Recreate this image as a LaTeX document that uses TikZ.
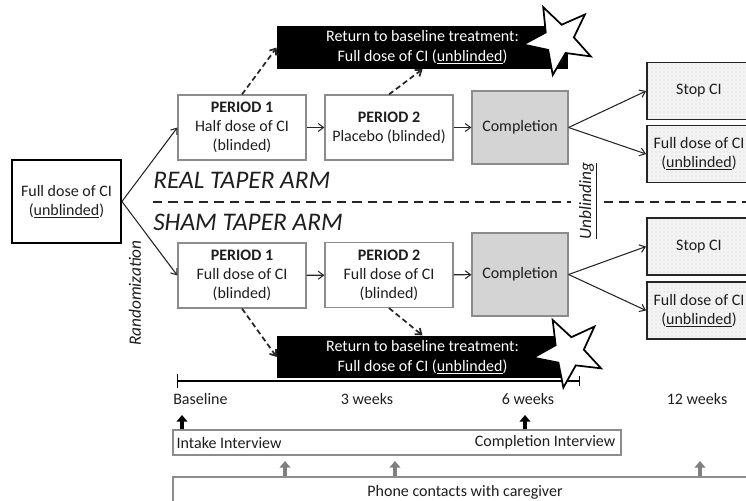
\documentclass[tikz,border=0pt]{standalone}
\usepackage{fontspec}
\setmainfont{Carlito}
\usetikzlibrary{arrows.meta,shapes.geometric,patterns}
\definecolor{boxgray}{RGB}{140,140,140}
\definecolor{compgray}{RGB}{212,212,212}
\definecolor{dotfill}{RGB}{243,243,243}
\definecolor{txtgray}{RGB}{30,30,30}
\newdimen\px
\px=0.75pt

\begin{document}
\begin{tikzpicture}[
  x=0.75pt, y=-0.75pt,
  font=\fontsize{12}{14.3}\selectfont, text=txtgray,
  perbox/.style={
    rectangle, draw=boxgray, line width=0.9pt, fill=white,
    minimum width=128\px, minimum height=65\px,
    align=center, inner sep=2pt
  },
  startbox/.style={rectangle, draw=black, line width=1.4pt,
    minimum width=109\px, minimum height=83\px, align=center},
  compbox/.style={rectangle, draw=boxgray, line width=0.9pt,
    fill=compgray, minimum width=96\px, align=center},
  outbox/.style={rectangle, draw=black!85, line width=1.4pt,
    preaction={fill=dotfill}, pattern=dots, pattern color=gray!35,
    minimum width=104\px, minimum height=57\px, align=center, inner sep=1pt},
  retbox/.style={rectangle, fill=black, text=white,
    minimum width=291\px, minimum height=41\px, align=center,
    font=\fontsize{12}{15}\selectfont},
  burst/.style={star, star points=5, star point ratio=2.4,
    draw=black, fill=white, line width=1.3pt,
    minimum size=72\px, inner sep=0pt},
  conn/.style={-{Straight Barb[length=4pt,width=6pt]}, line width=0.8pt, draw=black!85},
  back/.style={conn, line width=1.3pt, dash pattern=on 4pt off 2.5pt},
  sepline/.style={line width=1.4pt, draw=black!85, dash pattern=on 7pt off 4.5pt},
  armlabel/.style={font=\fontsize{19}{22}\selectfont\itshape, anchor=west, inner sep=0pt},
  sidelabel/.style={font=\fontsize{13}{15}\selectfont\itshape, rotate=90, inner sep=0pt},
  weeklabel/.style={inner sep=0pt},
  ivbox/.style={rectangle, draw=boxgray, line width=0.9pt},
  tline/.style={line width=2.2pt, draw=black,
    {Bar[width=11pt,line width=1pt]}-{Bar[width=7.5pt,line width=1pt]}},
  bigup/.style={-{Triangle[length=5pt,width=8pt]}, line width=2.6pt, draw=black},
  greyup/.style={bigup, draw=gray}
]
\useasboundingbox (0,0) rectangle (746,500);
\clip (0,0) rectangle (746,500);

\node[startbox] (start) at (66.5,201.5) {Full dose of CI\\(\underline{unblinded})};

\node[perbox] (r1) at (242,127.5) {\textbf{PERIOD 1}\\Half dose of CI\\(blinded)};
\node[perbox] (r2) at (389,127.5) {\textbf{PERIOD 2}\\Placebo (blinded)};
\node[compbox, minimum height=73\px] (rc) at (520,127.5) {Completion};
\node[outbox] (rstop) at (699,91) {Stop CI};
\node[outbox] (rfull) at (699,154) {Full dose of CI\\(\underline{unblinded})};
\node[retbox] (rret) at (422.5,47.5) {Return to baseline treatment:\\Full dose of CI (\underline{unblinded})};
\node[burst, rotate=26] (rstar) at (559,39.5) {};

\node[perbox] (s1) at (242,275.5) {\textbf{PERIOD 1}\\Full dose of CI\\(blinded)};
\node[perbox] (s2) at (389,275) {\textbf{PERIOD 2}\\Full dose of CI\\(blinded)};
\node[compbox, minimum height=83\px] (sc) at (520,274.5) {Completion};
\node[outbox] (sstop) at (699,246.5) {Stop CI};
\node[outbox] (sfull) at (699,310.5) {Full dose of CI\\(\underline{unblinded})};
\node[retbox, minimum height=40\px] (sret) at (422.5,357) {Return to baseline treatment:\\Full dose of CI (\underline{unblinded})};

\draw[conn] (start.east) -- (r1.west);
\draw[conn] (start.east) -- (s1.west);
\draw[conn] (r1) -- (r2);
\draw[conn] (r2) -- (rc);
\draw[conn] (rc.east) -- (rstop.west);
\draw[conn] (rc.east) -- (rfull.west);
\draw[conn] (s1) -- (s2);
\draw[conn] (s2) -- (sc);
\draw[conn] (sc.east) -- (sstop.west);
\draw[conn] (sc.east) -- (sfull.west);

\draw[back] (r1.north) -- (rret.west);
\draw[back] (r2.north) -- (rret.south);
\draw[back] (s1.south) -- (sret.west);
\draw[back] (s2.south) -- (sret.north);

\node[armlabel] (real) at (153,180) {REAL TAPER ARM};
\node[armlabel] (sham) at (153,222) {SHAM TAPER ARM};
\coordinate (d0) at (153,202);
\coordinate (d1) at (571,202);
\coordinate (d2) at (604,202);
\coordinate (d3) at (746,202);
\draw[sepline] (d0) -- (d1);
\draw[sepline] (d2) -- (d3);
\node[sidelabel] (unbl) at (588,201) {\underline{Unblinding}};
\node[sidelabel] (rand) at (135,293) {Randomization};

\coordinate (tl) at (177,381);
\coordinate (tr) at (580,381);
\draw[tline] (tl) -- (tr);
\node[burst, rotate=27] (sstar) at (569,352) {};

\node[weeklabel, anchor=west] (w0) at (173,399) {Baseline};
\node[weeklabel] (w3) at (367,399) {3 weeks};
\node[weeklabel] (w6) at (528,399) {6 weeks};
\node[weeklabel] (w12) at (697,399) {12 weeks};

\node[ivbox, minimum width=448\px, minimum height=25\px] (intake) at (397,442.5) {};
\node[anchor=west, inner sep=4\px] (intxt) at (intake.west) {Intake Interview};
\node[anchor=east, inner sep=6\px] (comptxt) at (intake.east) {Completion Interview};
\node[ivbox, minimum width=584\px, minimum height=30\px] (phone) at (465,492) {Phone contacts with caregiver};

\coordinate (a0) at (182,415);
\coordinate (a1) at (525,415);
\draw[bigup] (intake.north -| a0) -- (a0);
\draw[bigup] (intake.north -| a1) -- (a1);
\coordinate (g0) at (285,461);
\coordinate (g1) at (395,461);
\coordinate (g2) at (700,461);
\draw[greyup] (phone.north -| g0) -- (g0);
\draw[greyup] (phone.north -| g1) -- (g1);
\draw[greyup] (phone.north -| g2) -- (g2);
\end{tikzpicture}
\end{document}
